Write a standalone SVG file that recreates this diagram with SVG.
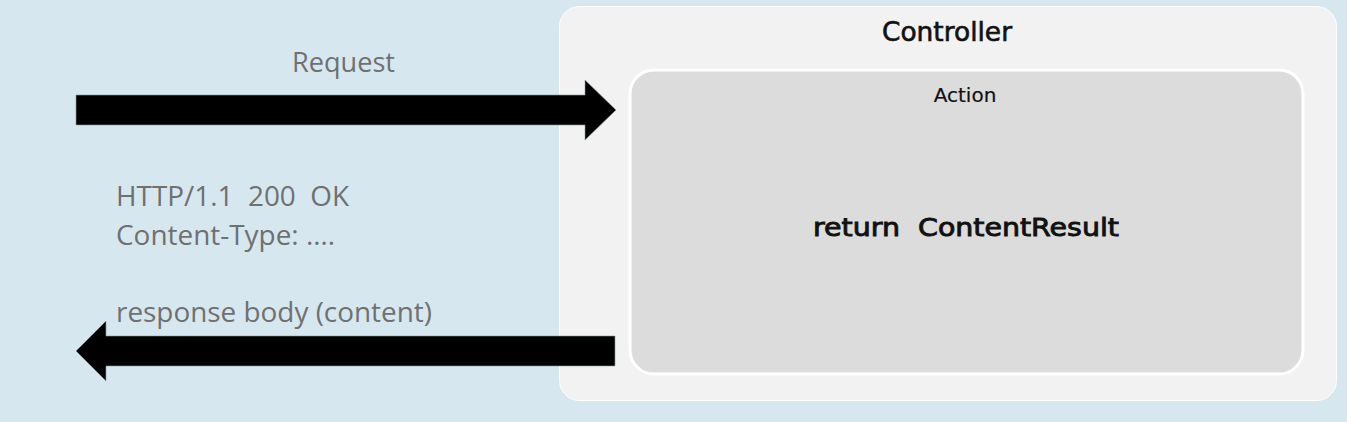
<svg xmlns="http://www.w3.org/2000/svg" width="1347" height="422" viewBox="0 0 1347 422">
<style>
.gray{font-family:"Open Sans","Liberation Sans",sans-serif;font-size:27px;fill:#707070;white-space:pre}
.dark{font-family:"DejaVu Sans","Liberation Sans",sans-serif;fill:#111111;stroke:#111111;white-space:pre}
.arrow{fill:#000000;stroke:#8a9aa4;stroke-width:0.6}
</style>
<rect x="0" y="0" width="1347" height="422" fill="#d7e7f0"/>
<g id="controller">
<rect x="559.5" y="6.5" width="777" height="394" rx="20" fill="#f2f2f2" stroke="#ffffff" stroke-width="1"/>
<text class="dark" x="882" y="41" font-size="26.5" stroke-width="0.6" textLength="130" lengthAdjust="spacingAndGlyphs">Controller</text>
</g>
<g id="action">
<rect x="630" y="70" width="673" height="304" rx="24" fill="#dcdcdc" stroke="#ffffff" stroke-width="3"/>
<text class="dark" x="965" y="102" font-size="20" stroke-width="0.2" text-anchor="middle">Action</text>
<text class="dark" x="813" y="236" font-size="25" stroke-width="0.9" textLength="306" lengthAdjust="spacingAndGlyphs" xml:space="preserve">return  ContentResult</text>
</g>
<g id="labels">
<text class="gray" x="292" y="72" textLength="103" lengthAdjust="spacingAndGlyphs">Request</text>
<text class="gray" x="116" y="206" textLength="233" lengthAdjust="spacingAndGlyphs" xml:space="preserve">HTTP/1.1  200  OK</text>
<text class="gray" x="116" y="245" textLength="219" lengthAdjust="spacingAndGlyphs">Content-Type: ….</text>
<text class="gray" x="116" y="322" textLength="316" lengthAdjust="spacingAndGlyphs">response body (content)</text>
</g>
<g id="connectors">
<polygon class="arrow" points="76,95 585,95 585,80 616,110 585,140 585,125 76,125"/>
<polygon class="arrow" points="615,336 106,336 106,321 76,351 106,381 106,366 615,366"/>
</g>
</svg>
